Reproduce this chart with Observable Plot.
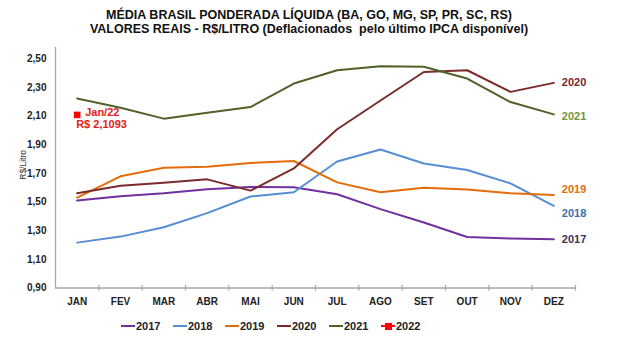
<!DOCTYPE html>
<html>
<head>
<meta charset="utf-8">
<script src="https://cdn.jsdelivr.net/npm/d3@7"></script>
<script src="https://cdn.jsdelivr.net/npm/@observablehq/plot@0.6"></script>
<style>
  html, body { margin: 0; padding: 0; background: #ffffff; }
  body { font-family: "Liberation Sans", Arial, sans-serif; }
  #wrap { position: relative; width: 637px; height: 338px; overflow: hidden; }
  #title { position: absolute; left: 0; top: 7.5px; width: 618px; text-align: center;
           font-weight: bold; font-size: 12.5px; line-height: 14.3px; color: #111; }
  #chart { position: absolute; left: 0; top: 0; }
  #legend { position: absolute; left: 121px; top: 320px; display: flex; align-items: center;
            font-weight: bold; font-size: 11px; color: #222; }
  .item { display: flex; align-items: center; margin-right: 12.5px; }
  .sw { position: relative; width: 14px; height: 2px; margin-right: 1px; }
  .sq { position: absolute; left: 4px; top: -2.5px; width: 7px; height: 7px; background: #ff0000; }
</style>
</head>
<body>
<div id="wrap">
  <div id="chart"></div>
  <div id="title">MÉDIA BRASIL PONDERADA LÍQUIDA (BA, GO, MG, SP, PR, SC, RS)<br>VALORES REAIS - R$/LITRO (Deflacionados&nbsp; pelo último IPCA disponível)</div>
  <div id="legend"></div>
</div>
<script>
const months = ["JAN","FEV","MAR","ABR","MAI","JUN","JUL","AGO","SET","OUT","NOV","DEZ"];
const years = ["2017","2018","2019","2020","2021"];
const v2017 = [1.511,1.541,1.562,1.590,1.606,1.604,1.555,1.451,1.358,1.256,1.245,1.240];
const v2018 = [1.217,1.259,1.324,1.423,1.539,1.569,1.784,1.867,1.770,1.724,1.631,1.474];
const v2019 = [1.532,1.680,1.740,1.747,1.773,1.787,1.638,1.569,1.601,1.588,1.562,1.550];
const v2020 = [1.562,1.615,1.636,1.659,1.580,1.735,2.009,2.210,2.409,2.421,2.270,2.333];
const v2021 = [2.224,2.159,2.083,2.124,2.164,2.328,2.421,2.449,2.446,2.363,2.199,2.113];
const v2022 = [2.1093];
const yTicks = [0.9,1.1,1.3,1.5,1.7,1.9,2.1,2.3,2.5];

const seriesValues = {"2017": v2017, "2018": v2018, "2019": v2019, "2020": v2020, "2021": v2021};
const lineColor = {"2017":"#7030a0","2018":"#558ed5","2019":"#e46c0a","2020":"#7b2b2b","2021":"#4f6228","2022":"#ff0000"};
const labelColor = {"2017":"#3d2f58","2018":"#3f6fae","2019":"#e46c0a","2020":"#7a2630","2021":"#77933c"};
const labelDy = {"2017":0,"2018":8,"2019":-5,"2020":0,"2021":2};

const rows = years.flatMap(y => seriesValues[y].map((v, i) => ({year: y, i, value: v})));
const rows2022 = v2022.map((v, i) => ({year: "2022", i, value: v}));
const bounds = d3.range(months.length + 1).map(i => i - 0.5);
const fmt = d => d.toFixed(2).replace(".", ",");
const fmt4 = d => d.toFixed(4).replace(".", ",");

const endLabels = years.map(y => Plot.text(rows.filter(d => d.year === y && d.i === months.length - 1), {
  x: "i", y: "value", text: "year", textAnchor: "start", dx: 8, dy: labelDy[y],
  fill: labelColor[y], fontWeight: "bold", fontSize: 11
}));

const chart = Plot.plot({
  width: 637, height: 312,
  marginLeft: 55, marginRight: 62, marginTop: 47, marginBottom: 24.5,
  style: {fontFamily: "'Liberation Sans', Arial, sans-serif", background: "transparent"},
  x: {type: "linear", domain: [-0.5, months.length - 0.5], axis: null},
  y: {domain: [0.9, 2.58], axis: null},
  marks: [
    Plot.ruleX([-0.5], {stroke: "#a6a6a6", strokeWidth: 1.3}),
    Plot.ruleY([0.9], {stroke: "#a6a6a6", strokeWidth: 1.3}),
    Plot.ruleX(bounds.slice(1), {y1: 0.9, y2: 0.9, insetTop: -2.5, insetBottom: -3, stroke: "#a6a6a6", strokeWidth: 1.2}),
    Plot.axisX(d3.range(months.length), {tickSize: 0, tickPadding: 10, tickFormat: i => months[i], label: null,
      fontWeight: "bold", fontSize: 10, fill: "#222"}),
    Plot.axisY(yTicks, {tickSize: 0, tickPadding: 9, tickFormat: fmt, label: null, fontWeight: "bold", fontSize: 10, fill: "#222"}),
    Plot.text(["R$/Litro"], {frameAnchor: "left", text: d => d, rotate: -90, dx: -32, dy: 12, fontSize: 8.5, fill: "#333"}),
    Plot.line(rows, {x: "i", y: "value", z: "year", stroke: d => lineColor[d.year], strokeWidth: 2}),
    Plot.dot(rows2022, {x: "i", y: "value", symbol: "square", r: 3.7, fill: lineColor["2022"], stroke: null}),
    Plot.text(rows2022, {x: "i", y: "value", text: () => "Jan/22", textAnchor: "start", dx: 8, dy: -2,
      fill: "#e3201c", fontWeight: "bold", fontSize: 11}),
    Plot.text(rows2022, {x: "i", y: "value", text: d => "R$ " + fmt4(d.value), textAnchor: "start", dx: -1, dy: 10,
      fill: "#e3201c", fontWeight: "bold", fontSize: 11}),
    ...endLabels
  ]
});
document.getElementById("chart").appendChild(chart);

const legend = document.getElementById("legend");
[...years, "2022"].forEach(y => {
  const item = document.createElement("div");
  item.className = "item";
  const sw = document.createElement("div");
  sw.className = "sw";
  sw.style.background = lineColor[y];
  if (y === "2022") { const sq = document.createElement("div"); sq.className = "sq"; sw.appendChild(sq); }
  const t = document.createElement("span");
  t.textContent = y;
  item.appendChild(sw); item.appendChild(t);
  legend.appendChild(item);
});
</script>
</body>
</html>
